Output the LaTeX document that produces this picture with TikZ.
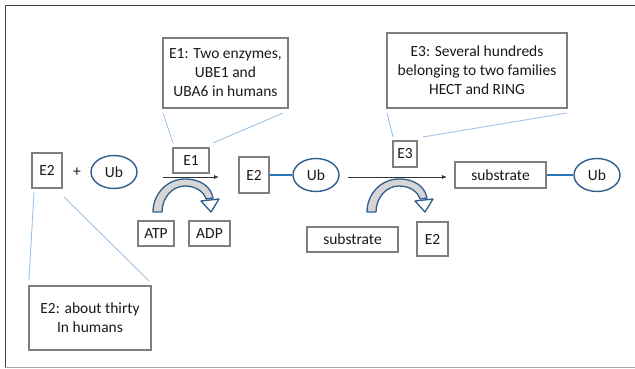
\documentclass[tikz,border=0pt]{standalone}
\usepackage{fontspec}
\setmainfont{Carlito}
\usetikzlibrary{shapes.geometric,arrows.meta}
\definecolor{boxgray}{HTML}{7F7F7F}
\definecolor{ubblue}{HTML}{2E5E8E}
\definecolor{linkblue}{HTML}{2E75B6}
\definecolor{callblue}{HTML}{9DC3E6}
\definecolor{arcgray}{HTML}{D6D6D6}
\tikzset{
	box/.style={draw=boxgray,line width=1.1pt,rectangle,inner sep=0pt,align=center,text=black!90},
	ub/.style={draw=ubblue,line width=1.4pt,ellipse,minimum width=46pt,minimum height=33pt,inner sep=0pt,text=black!90},
	callout/.style={callblue,line width=0.9pt},
	link/.style={linkblue,line width=1.5pt},
	react/.style={black!80,line width=0.8pt,-{Latex[length=5pt,width=4pt]}},
	pics/bendarrow/.style={code={
		\draw[ubblue,line width=1.3pt,fill=arcgray,line join=round] (0,0) .. controls (0,-18) and (14,-33) .. (32,-33)
			.. controls (48,-33) and (58,-25) .. (60,-14) -- (53,-13)
			.. controls (51,-20) and (43,-26) .. (32,-26)
			.. controls (19,-26) and (9,-14) .. (9,0) -- cycle;
		\draw[ubblue,line width=1.3pt,fill=white,line join=round] (48,-11) -- (66,-13) -- (58,0) -- cycle;
	}}
}
\begin{document}
\begin{tikzpicture}[x=1pt,y=-1pt,font=\fontsize{15.5}{19}\selectfont]
	\useasboundingbox (0,0) rectangle (635,369);
	\draw[black!75,line width=1pt] (635,6) -- (5,6) -- (5,367);
	\draw[black!35,line width=1pt] (5,367) -- (635,367);
	
	\node[box,minimum width=125pt,minimum height=70pt] (e1note) at (225.5,73) {E1: Two enzymes,\\UBE1 and\\UBA6 in humans};
	\node[box,minimum width=180pt,minimum height=75pt] (e3note) at (477,70.5) {E3: Several hundreds\\belonging to two families\\HECT and RING};
	\node[box,minimum width=122pt,minimum height=64pt] (e2note) at (90,318) {E2: about thirty\\In humans};
	
	\node[box,minimum width=30pt,minimum height=35pt] (e2a) at (47,170.5) {E2};
	\node[text=black!90] (plus) at (77,172) {+};
	\node[ub] (uba) at (114,172) {Ub};
	\node[box,minimum width=36pt,minimum height=25pt] (e1) at (191,160.5) {E1};
	\node[box,minimum width=36pt,minimum height=25pt] (atp) at (156,233.5) {ATP};
	\node[box,minimum width=41pt,minimum height=25pt] (adp) at (209.5,233.5) {ADP};
	\node[box,minimum width=30pt,minimum height=36pt] (e2b) at (254,175) {E2};
	\node[ub] (ubb) at (316,175) {Ub};
	\node[box,minimum width=24pt,minimum height=26pt] (e3) at (405,154) {E3};
	\node[box,minimum width=91pt,minimum height=25pt] (subsb) at (352.5,239.5) {substrate};
	\node[box,minimum width=31pt,minimum height=34pt] (e2c) at (432.5,239) {E2};
	\node[box,minimum width=91pt,minimum height=26pt] (subsa) at (500.5,175) {substrate};
	\node[ub] (ubc) at (597,175) {Ub};
	
	\coordinate (r1s) at (163,177);
	\coordinate (r1e) at (219,177);
	\coordinate (r2s) at (348,177);
	\coordinate (r2e) at (447,177);
	\draw[react] (r1s) -- (r1e);
	\draw[react] (r2s) -- (r2e);
	
	\draw[link] (e2b) -- (ubb);
	\draw[link] (subsa) -- (ubc);
	
	\coordinate (c1a) at (163,113);
	\coordinate (c1b) at (173,143);
	\coordinate (c1c) at (283,113);
	\coordinate (c1d) at (213,143);
	\draw[callout] (c1a) -- (c1b);
	\draw[callout] (c1c) -- (c1d);
	\coordinate (c3a) at (387,113);
	\coordinate (c3b) at (393,137);
	\coordinate (c3c) at (567,113);
	\coordinate (c3d) at (423,137);
	\draw[callout] (c3a) -- (c3b);
	\draw[callout] (c3c) -- (c3d);
	\coordinate (c2a) at (34,192);
	\coordinate (c2b) at (29,280);
	\coordinate (c2c) at (64,197);
	\coordinate (c2d) at (149,281);
	\draw[callout] (c2a) -- (c2b);
	\draw[callout] (c2c) -- (c2d);
	
	\pic at (153,212) {bendarrow};
	\pic at (367,212) {bendarrow};
\end{tikzpicture}
\end{document}
